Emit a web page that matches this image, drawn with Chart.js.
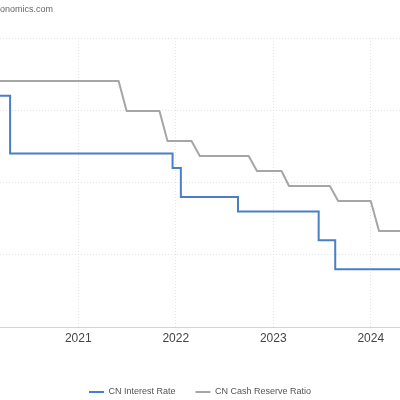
<!DOCTYPE html>
<html><head><meta charset="utf-8">
<script src="https://cdn.jsdelivr.net/npm/chart.js@4.4.1/dist/chart.umd.min.js"></script>
<style>html,body{margin:0;padding:0;background:#fff;overflow:hidden}#wrap{width:400px;height:400px}</style>
</head><body><div id="wrap"><canvas id="c" width="400" height="400"></canvas></div>
<script>
const seriesNames = ['CN Interest Rate', 'CN Cash Reserve Ratio'];
const rateDates = ['2020-01-20','2020-02-20','2020-04-20','2021-12-20','2022-01-20','2022-08-22','2023-06-20','2023-08-21','2024-06-20'];
const rateValues = [4.15, 4.05, 3.85, 3.80, 3.70, 3.65, 3.55, 3.45, 3.45];
const rrrDates = ['2020-01-01','2021-06-01','2021-07-01','2021-11-01','2021-12-01','2022-03-01','2022-04-01','2022-10-01','2022-11-01','2023-02-01','2023-03-01','2023-08-01','2023-09-01','2024-01-01','2024-02-01','2024-06-01'];
const rrrValues = [12.5, 12.5, 12.0, 12.0, 11.5, 11.5, 11.25, 11.25, 11.0, 11.0, 10.75, 10.75, 10.5, 10.5, 10.0, 10.0];
const yearTicks = [2021, 2022, 2023, 2024];
const rateTicks = [3.25, 3.5, 3.75, 4.0, 4.25];
const xRange = [2020.197, 2024.300];
const rateRange = [3.25, 4.25];
const rrrRange = [8.4, 13.2167];
const sourceText = 'tradingeconomics.com';

const FAMILY = '"Liberation Sans", Arial, Helvetica, sans-serif';

function decYear(s) {
  const [y, m, d] = s.split('-').map(Number);
  const start = Date.UTC(y, 0, 1), end = Date.UTC(y + 1, 0, 1);
  return y + (Date.UTC(y, m - 1, d) - start) / (end - start);
}
const toPoints = (dates, vals) => dates.map((d, i) => ({x: decYear(d), y: vals[i]}));

const sourcePlugin = {
  id: 'sourceText',
  afterDraw(chart) {
    const ctx = chart.ctx;
    ctx.save();
    ctx.font = '9px ' + FAMILY;
    ctx.fillStyle = '#666';
    ctx.textBaseline = 'middle';
    ctx.textAlign = 'left';
    const hidden = ctx.measureText(sourceText.slice(0, 9)).width;
    ctx.fillText(sourceText, -hidden, 10);
    ctx.restore();
  }
};

new Chart(document.getElementById('c'), {
  type: 'line',
  data: {
    datasets: [
      {
        label: seriesNames[0],
        data: toPoints(rateDates, rateValues),
        borderColor: '#4b7fc3', backgroundColor: '#4b7fc3',
        borderWidth: 2, pointRadius: 0, stepped: true, yAxisID: 'y',
        borderJoinStyle: 'miter', borderCapStyle: 'butt'
      },
      {
        label: seriesNames[1],
        data: toPoints(rrrDates, rrrValues),
        borderColor: '#a6a6a6', backgroundColor: '#a6a6a6',
        borderWidth: 2, pointRadius: 0, tension: 0, yAxisID: 'y1',
        borderJoinStyle: 'round'
      }
    ]
  },
  options: {
    responsive: false, animation: false,
    layout: {padding: {top: 38, bottom: -6.5, left: 0, right: 0}},
    plugins: {
      legend: {
        position: 'bottom',
        labels: {usePointStyle: true, pointStyle: 'line', pointStyleWidth: 15, boxHeight: 9,
          padding: 20, color: '#555', font: {size: 9, family: FAMILY}}
      },
      tooltip: {enabled: false},
      title: {display: false}
    },
    scales: {
      x: {
        type: 'linear', min: xRange[0], max: xRange[1],
        afterBuildTicks: s => { s.ticks = yearTicks.map(v => ({value: v})); },
        afterFit: s => { s.height = 40.5; },
        ticks: {callback: v => String(v), color: '#444', font: {size: 12, family: FAMILY},
          padding: 4, maxRotation: 0, autoSkip: false},
        grid: {color: '#e4e4e4', drawTicks: false, lineWidth: 1},
        border: {display: true, color: '#d3d3d3', dash: [1, 2]}
      },
      y: {
        position: 'left', min: rateRange[0], max: rateRange[1],
        afterBuildTicks: s => { s.ticks = rateTicks.map(v => ({value: v})); },
        afterFit: s => { s.width = 0; },
        ticks: {display: false},
        grid: {color: '#e4e4e4', drawTicks: false, lineWidth: 1},
        border: {display: false, dash: [1, 2]}
      },
      y1: {
        position: 'right', min: rrrRange[0], max: rrrRange[1],
        afterFit: s => { s.width = 0; },
        ticks: {display: false},
        grid: {display: false},
        border: {display: false}
      }
    }
  },
  plugins: [sourcePlugin]
});
</script>
</body></html>
